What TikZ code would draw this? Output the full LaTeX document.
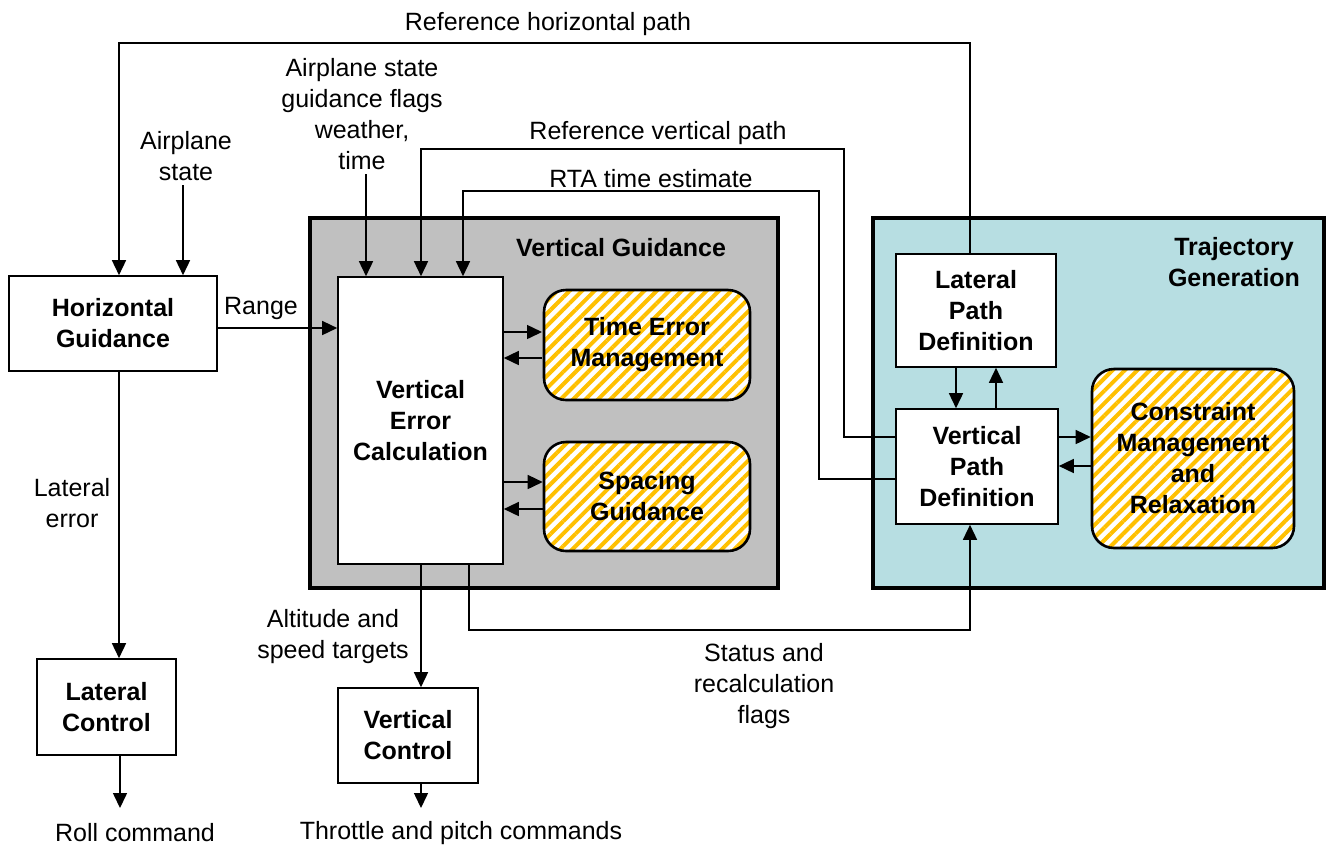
\documentclass[tikz,border=0pt]{standalone}
\usepackage{fontspec}
\setmainfont{Liberation Sans}
\usetikzlibrary{arrows.meta,patterns.meta}
\definecolor{vgray}{RGB}{192,192,192}
\definecolor{tgblue}{RGB}{183,222,226}
\definecolor{hatch}{RGB}{255,192,0}

\begin{document}
\begin{tikzpicture}[x=0.5pt,y=-0.5pt,
  font=\fontsize{12.5}{15.5}\selectfont,
  arr/.style={-{Triangle[length=7.5pt,width=7pt]},line width=0.75pt},
  lab/.style={align=center,inner sep=2pt},
  box/.style={draw=black,line width=0.8pt,fill=white,align=center,inner sep=0pt,font=\fontsize{12.5}{15.5}\selectfont\bfseries},
  hatchbox/.style={draw=black,line width=1.3pt,rounded corners=11pt,align=center,inner sep=0pt,
    preaction={fill=white},pattern={Lines[angle=45,distance=4.4pt,line width=2pt]},pattern color=hatch,
    font=\fontsize{12.5}{15.5}\selectfont\bfseries}]
\useasboundingbox (0,0) rectangle (1326,848);

% the two blocks
\draw[line width=1.6pt,fill=vgray] (310,218) rectangle (778,588);
\draw[line width=1.6pt,fill=tgblue] (873,218) rectangle (1324,588);
\node[font=\fontsize{12.5}{15.5}\selectfont\bfseries] (vgtitle) at (621,248) {Vertical Guidance};
\node[lab,font=\fontsize{12.5}{15.5}\selectfont\bfseries] (tgtitle) at (1234,262) {Trajectory\\Generation};

% boxes
\node[box,minimum width=104pt,minimum height=47.5pt] (hg) at (113,323.5) {Horizontal\\Guidance};
\node[box,minimum width=82.5pt,minimum height=143.5pt] (vec) at (420.5,420.5) {Vertical\\Error\\Calculation};
\node[hatchbox,minimum width=103pt,minimum height=55pt] (tem) at (647,345) {Time Error\\Management};
\node[hatchbox,minimum width=103pt,minimum height=54.5pt] (sg) at (647,496.5) {Spacing\\Guidance};
\node[box,minimum width=80pt,minimum height=56.5pt] (lpd) at (976,310.5) {Lateral\\Path\\Definition};
\node[box,minimum width=81pt,minimum height=57.5pt] (vpd) at (977,466.5) {Vertical\\Path\\Definition};
\node[hatchbox,minimum width=101pt,minimum height=89.5pt] (cmr) at (1193,458.5) {Constraint\\Management\\and\\Relaxation};
\node[box,minimum width=69.5pt,minimum height=48pt] (lc) at (106.5,707) {Lateral\\Control};
\node[box,minimum width=70pt,minimum height=47.5pt] (vc) at (408,735.5) {Vertical\\Control};

% labels
\node[lab] (rhp) at (548,24) {Reference horizontal path};
\node[lab] (rvp) at (658,133) {Reference vertical path};
\node[lab] (rta) at (651,179) {RTA time estimate};
\node[lab] (astate) at (186,156) {Airplane\\state};
\node[lab] (aflags) at (362,114) {Airplane state\\guidance flags\\weather,\\time};
\node[lab] (range) at (261,308) {Range};
\node[lab] (laterr) at (72,503) {Lateral\\error};
\node[lab] (alt) at (333,637) {Altitude and\\speed targets};
\node[lab] (status) at (764,686) {Status and\\recalculation\\flags};
\node[lab] (roll) at (135,833) {Roll command};
\node[lab] (thr) at (461,833) {Throttle and pitch commands};

% connectors
\draw[arr] (lpd.north -| 970,0) |- (119,43) -- (hg.north -| 119,0);
\draw[arr] (astate.south -| 183,0) -- (hg.north -| 183,0);
\draw[arr] (aflags.south -| 366,0) -- (vec.north -| 366,0);
\draw[arr] (vpd.west |- 0,437) -| (844,149) -| (vec.north -| 421,0);
\draw[arr] (vpd.west |- 0,479) -| (819,191) -| (vec.north -| 463,0);
\draw[arr] (hg.east |- 0,328) -- (vec.west |- 0,328);

\draw[arr] (vec.east |- 0,332) -- (tem.west |- 0,332);
\draw[arr] (tem.west |- 0,358) -- (vec.east |- 0,358);
\draw[arr] (vec.east |- 0,482) -- (sg.west |- 0,482);
\draw[arr] (sg.west |- 0,509) -- (vec.east |- 0,509);

\draw[arr] (lpd.south -| 956,0) -- (vpd.north -| 956,0);
\draw[arr] (vpd.north -| 996,0) -- (lpd.south -| 996,0);
\draw[arr] (vpd.east |- 0,437) -- (cmr.west |- 0,437);
\draw[arr] (cmr.west |- 0,466) -- (vpd.east |- 0,466);

\draw[arr] (vec.south -| 469,0) |- (970,630) -- (vpd.south -| 970,0);
\draw[arr] (vec.south -| 421,0) -- (vc.north -| 421,0);
\draw[arr] (hg.south -| 119,0) -- (lc.north -| 119,0);

\coordinate (rollend) at (120,808);
\coordinate (vcend) at (421,808);
\draw[arr] (lc.south -| 120,0) -- (rollend);
\draw[arr] (vc.south -| 421,0) -- (vcend);

\end{tikzpicture}
\end{document}
